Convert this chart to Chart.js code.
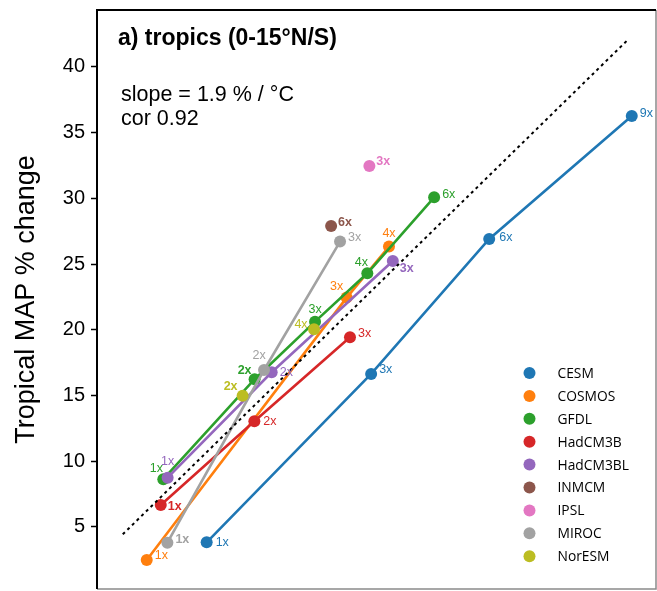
<!DOCTYPE html>
<html><head><meta charset="utf-8">
<script src="https://cdn.jsdelivr.net/npm/chart.js@4/dist/chart.umd.min.js"></script>
<style>html,body{margin:0;padding:0;background:#fff}#wrap{width:657px;height:591px}</style>
</head><body><div id="wrap"><canvas id="c" width="657" height="591"></canvas></div>
<script>
// ---- data (x: tropical warming °C, y: tropical MAP % change) ----
const models = ['CESM','COSMOS','GFDL','HadCM3B','HadCM3BL','INMCM','IPSL','MIROC','NorESM'];
const cesmX = [4.30, 10.75, 15.38, 20.97];
const cesmY = [3.83, 16.64, 26.91, 36.26];
const cesmCO2 = ['1x','3x','6x','9x'];
const cosmosX = [1.95, 9.79, 11.45];
const cosmosY = [2.49, 22.45, 26.33];
const cosmosCO2 = ['1x','3x','4x'];
const gfdlX = [2.60, 6.18, 8.55, 10.60, 13.22];
const gfdlY = [8.63, 16.24, 20.62, 24.30, 30.08];
const gfdlCO2 = ['1x','2x','3x','4x','6x'];
const hadcm3bX = [2.50, 6.17, 9.92];
const hadcm3bY = [6.67, 13.04, 19.43];
const hadcm3bCO2 = ['1x','2x','3x'];
const hadcm3blX = [2.77, 6.85, 11.60];
const hadcm3blY = [8.75, 16.77, 25.24];
const hadcm3blCO2 = ['1x','2x','3x'];
const inmcmX = [9.18];
const inmcmY = [27.90];
const inmcmCO2 = ['6x'];
const ipslX = [10.68];
const ipslY = [32.47];
const ipslCO2 = ['3x'];
const mirocX = [2.76, 6.55, 9.53];
const mirocY = [3.80, 16.94, 26.71];
const mirocCO2 = ['1x','2x','3x'];
const noresmX = [5.71, 8.51];
const noresmY = [14.99, 20.04];
const noresmCO2 = ['2x','4x'];
const fitX = [1.01, 20.84];
const fitY = [4.44, 42.11];
const yTicks = [5, 10, 15, 20, 25, 30, 35, 40];
const titleText = 'a) tropics (0-15°N/S)';
const slopeText = 'slope = 1.9 % / °C';
const corText = 'cor 0.92';

// ---- style ----
const colors = ['#1f77b4','#ff7f0e','#2ca02c','#d62728','#9467bd','#8c564b','#e377c2','#a2a2a2','#bcbd22'];
const showLines = [true,true,true,true,true,false,false,true,false];
// label offsets [dx, dy, align, bold]
const labelStyle = [
  [[9,0,'left',0],[8,-4,'left',0],[10,-1,'left',0],[8,-3,'left',0]],
  [[8,-4,'left',0],[-10,-11,'center',0],[0,-13,'center',0]],
  [[-7,-11,'center',0],[-10,-9,'center',1],[0,-12,'center',0],[-6,-11,'center',0],[8,-3,'left',0]],
  [[7,2,'left',1],[9,0,'left',0],[8,-4,'left',0]],
  [[0,-16,'center',0],[8,0,'left',0],[7,8,'left',1]],
  [[7,-3,'left',1]],
  [[7,-4,'left',1]],
  [[8,-3,'left',1],[-5,-14,'center',0],[8,-4,'left',0]],
  [[-12,-9,'center',1],[-13,-5,'center',0]]
];

const seriesX = [cesmX,cosmosX,gfdlX,hadcm3bX,hadcm3blX,inmcmX,ipslX,mirocX,noresmX];
const seriesY = [cesmY,cosmosY,gfdlY,hadcm3bY,hadcm3blY,inmcmY,ipslY,mirocY,noresmY];
const seriesCO2 = [cesmCO2,cosmosCO2,gfdlCO2,hadcm3bCO2,hadcm3blCO2,inmcmCO2,ipslCO2,mirocCO2,noresmCO2];
const FONT = "'Liberation Sans', Arial, sans-serif";

const datasets = models.map((m, i) => ({
  label: m,
  data: seriesX[i].map((x, j) => ({x, y: seriesY[i][j]})),
  borderColor: colors[i],
  backgroundColor: colors[i],
  pointBackgroundColor: colors[i],
  pointBorderColor: colors[i],
  pointRadius: 6,
  pointBorderWidth: 0,
  borderWidth: 2.6,
  showLine: showLines[i],
  order: 20 - i,
  co2: seriesCO2[i],
  lbl: labelStyle[i]
}));
datasets.push({
  label: 'fit',
  data: fitX.map((x, j) => ({x, y: fitY[j]})),
  borderColor: '#000',
  borderWidth: 2,
  borderDash: [3, 3.5],
  pointRadius: 0,
  showLine: true,
  order: 0
});

const decor = {
  id: 'decor',
  afterDatasetsDraw(chart) {
    const ctx = chart.ctx;
    ctx.save();
    chart.data.datasets.forEach((ds, i) => {
      if (!ds.co2) return;
      const meta = chart.getDatasetMeta(i);
      meta.data.forEach((pt, j) => {
        const st = ds.lbl[j];
        ctx.font = (st[3] ? 'bold ' : '') + '12.5px ' + FONT;
        ctx.fillStyle = ds.borderColor;
        ctx.textAlign = st[2];
        ctx.textBaseline = 'middle';
        ctx.fillText(ds.co2[j], pt.x + st[0], pt.y + st[1]);
      });
    });
    ctx.restore();
  },
  afterDraw(chart) {
    const ctx = chart.ctx, a = chart.chartArea;
    ctx.save();
    // frame
    ctx.strokeStyle = '#8a8a8a'; ctx.lineWidth = 1.5;
    ctx.beginPath(); ctx.moveTo(a.right, a.top); ctx.lineTo(a.right, a.bottom); ctx.lineTo(a.left, a.bottom); ctx.stroke();
    ctx.strokeStyle = '#000'; ctx.lineWidth = 2;
    ctx.beginPath(); ctx.moveTo(a.left, a.bottom); ctx.lineTo(a.left, a.top); ctx.lineTo(a.right, a.top); ctx.stroke();
    // texts
    ctx.fillStyle = '#000'; ctx.textAlign = 'left'; ctx.textBaseline = 'middle';
    ctx.font = 'bold 23px ' + FONT;
    ctx.fillText(titleText, a.left + 21, 39);
    ctx.font = '21.5px ' + FONT;
    ctx.fillText(slopeText, a.left + 24, 95);
    ctx.fillText(corText, a.left + 24, 119);
    // legend
    ctx.font = "13.8px 'Open Sans', sans-serif";
    models.forEach((m, i) => {
      const y = a.top + 363 + i * 22.9;
      ctx.fillStyle = colors[i];
      ctx.beginPath(); ctx.arc(a.left + 432.5, y, 6, 0, Math.PI * 2); ctx.fill();
      ctx.fillStyle = '#000';
      ctx.fillText(m, a.left + 460.5, y + 1);
    });
    ctx.restore();
  }
};

new Chart(document.getElementById('c'), {
  type: 'scatter',
  data: { datasets },
  options: {
    responsive: false,
    devicePixelRatio: 1,
    animation: false,
    layout: { autoPadding: false, padding: { top: 10, right: 1, bottom: 2, left: 0 } },
    plugins: { legend: { display: false }, tooltip: { enabled: false } },
    scales: {
      x: { type: 'linear', min: 0, max: 21.92, display: false },
      y: {
        type: 'linear', min: 0.28, max: 44.33,
        afterBuildTicks: s => { s.ticks = yTicks.map(v => ({ value: v })); },
        afterFit: s => { s.width = 97; s.paddingTop = 0; s.paddingBottom = 0; },
        grid: { drawOnChartArea: false, drawTicks: true, tickLength: 6, tickColor: '#000', tickWidth: 1.5 },
        border: { display: false },
        ticks: { font: { family: FONT, size: 20 }, color: '#000', padding: 6 },
        title: { display: true, text: 'Tropical MAP % change', font: { family: FONT, size: 27 }, color: '#000', padding: { top: 10, bottom: 0 } }
      }
    }
  },
  plugins: [decor]
});
</script></body></html>
